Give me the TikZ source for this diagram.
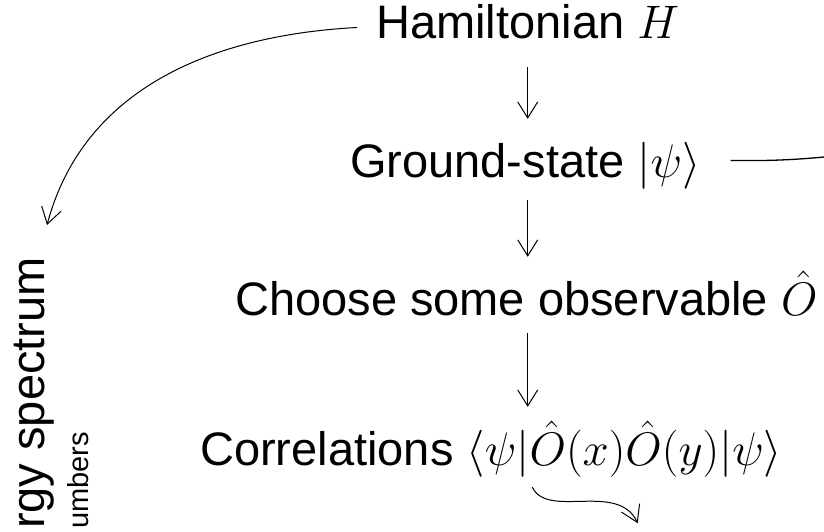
\RequirePackage{fix-cm}
\documentclass[tikz,border=0pt]{standalone}
\usepackage{fontspec}
\setmainfont{Liberation Sans}
\usetikzlibrary{arrows.meta,positioning,calc}
\newcommand{\nagybetu}{\fontsize{47}{56}\selectfont}
\newcommand{\kisbetu}{\fontsize{29}{35}\selectfont}
\tikzset{
  felirat/.style={inner sep=0pt,anchor=base west,font=\nagybetu,
    text height=35pt,text depth=12pt},
  hegy/.style={-{Straight Barb[length=16pt,width=20pt]}},
  lenyil/.style={hegy,line width=1pt,shorten >=23pt},
  ivnyil/.style={hegy,line width=1pt},
  vonal/.style={line width=1.3pt},
}

\begin{document}
\begin{tikzpicture}[x=1pt,y=-1pt]
  \useasboundingbox (0,0) rectangle (824,531);
  \clip (0,0) rectangle (824,531);
  % a lanc
  \node[felirat] (ham) at (376,38) {Hamiltonian $H$};
  \node[felirat] (gs) at (350,177) {Ground-state $|\psi\rangle$};
  \node[felirat] (obs) at (235,315) {Choose some observable $\hat{O}$};
  \node[felirat] (kor) at (200,465)
    {Correlations $\langle\psi|\hat{O}(x)\hat{O}(y)|\psi\rangle$};
  \draw[lenyil,shorten <=17pt] (ham.south) -- (gs.north -| ham.south);
  \draw[lenyil,shorten <=11pt] (gs.south -| ham.south) -- (obs.north -| ham.south);
  \draw[lenyil,shorten <=6pt] (obs.south -| ham.south) -- (kor.north -| ham.south);
  % bal oldal, elforgatva
  \node[rotate=90,anchor=base west,inner sep=0pt,font=\nagybetu] (spek)
    at (44,529) {rgy spectrum};
  \node[rotate=90,anchor=base west,inner sep=0pt,font=\kisbetu] (szam)
    at (88,529) {umbers};
  \coordinate (spekfent) at (47,225);
  \draw[ivnyil,shorten <=19pt] (ham.west) to[out=183,in=75] (spekfent);
  % kifele mutato vonalak
  \coordinate (jobbki) at (834,156);
  \draw[vonal,shorten <=30pt] ([yshift=5pt]gs.east) to[out=0,in=186] (jobbki);
  \coordinate (lent) at ($(kor.south -| ham.south)+(110,46)$);
  \draw[ivnyil,shorten <=11pt] (kor.south -| ham.south) to[out=-65,in=115] (lent);
\end{tikzpicture}
\end{document}
